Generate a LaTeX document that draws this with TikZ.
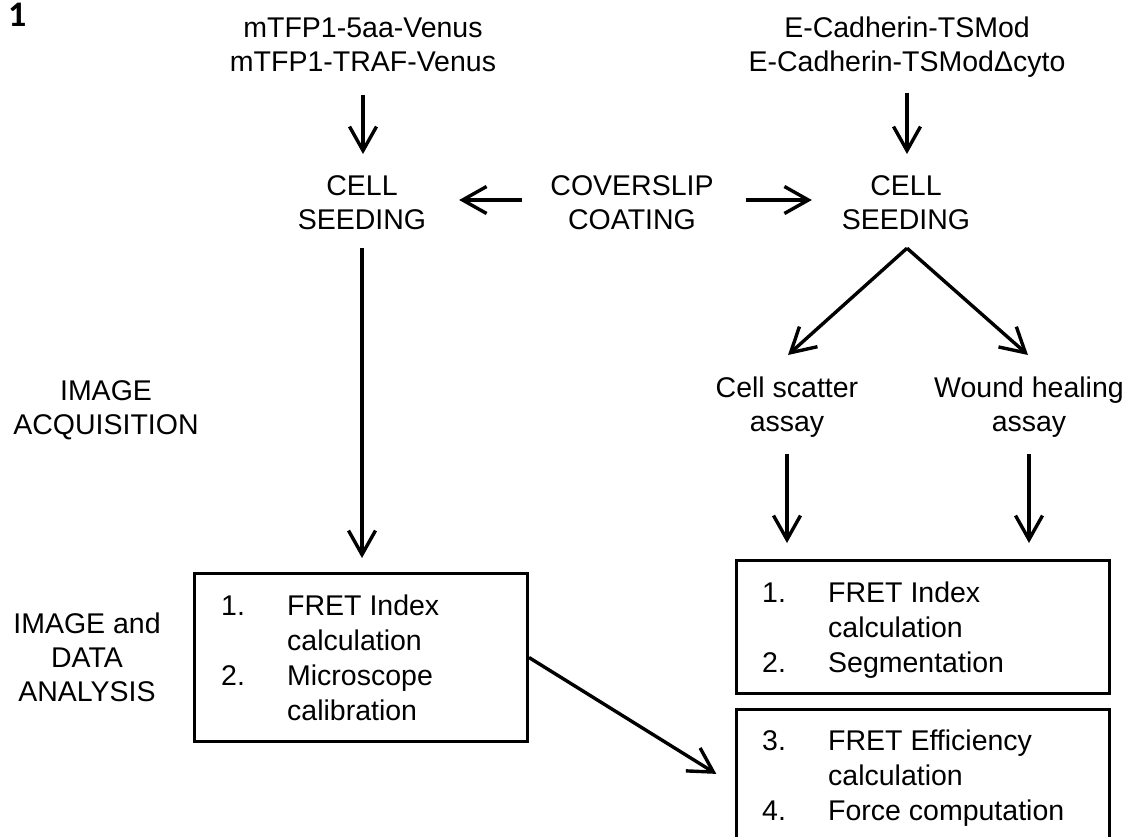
\documentclass[tikz,border=0pt]{standalone}
\usepackage{fontspec}
\setmainfont{Liberation Sans}
\newfontfamily\numfont{Carlito}
\usetikzlibrary{arrows.meta,calc}
\begin{document}
\begin{tikzpicture}[x=1pt,y=-1pt,
  lbl/.style={inner sep=0pt, align=center, anchor=north, font=\fontsize{28.5pt}{34pt}\selectfont},
  arr/.style={line width=3.4pt, -{Straight Barb[length=24pt,width=27pt]}},
  boxnode/.style={draw, line width=3pt, inner sep=0pt, anchor=north west},
  listtext/.style={inner sep=0pt, anchor=north west, align=left, font=\fontsize{28.5pt}{35pt}\selectfont}]
\useasboundingbox (0,0) rectangle (1133,836);
\clip (0,0) rectangle (1133,836);
% labels
\node[font=\numfont\fontsize{36pt}{38pt}\bfseries\selectfont, inner sep=0pt, anchor=north west] (fig) at (8,3) {1};
\node[lbl] (mtfp) at (363,18) {mTFP1-5aa-Venus\\mTFP1-TRAF-Venus};
\node[lbl] (ecad) at (907,17) {E-Cadherin-TSMod\\E-Cadherin-TSModΔcyto};
\node[lbl] (cellL) at (362,175) {CELL\\SEEDING};
\node[lbl] (coat) at (632,175) {COVERSLIP\\COATING};
\node[lbl] (cellR) at (906,175) {CELL\\SEEDING};
\node[lbl] (scatter) at (787,377) {Cell scatter\\assay};
\node[lbl] (wound) at (1029,377) {Wound healing\\assay};
\node[lbl] (acq) at (106,380) {IMAGE\\ACQUISITION};
\node[lbl] (ida) at (87,613) {IMAGE and\\DATA\\ANALYSIS};
% boxes
\node[boxnode, minimum width=333pt, minimum height=168pt] (lbox) at (193,572) {};
\node[listtext] (ltext) at (221,594.6) {\makebox[66pt][l]{1.}FRET Index\\\hspace*{66pt}calculation\\\makebox[66pt][l]{2.}Microscope\\\hspace*{66pt}calibration};
\node[boxnode, minimum width=373pt, minimum height=133pt] (rbox1) at (735,559) {};
\node[listtext] (rtext1) at (762,581.6) {\makebox[66pt][l]{1.}FRET Index\\\hspace*{66pt}calculation\\\makebox[66pt][l]{2.}Segmentation};
\node[boxnode, minimum width=373pt, minimum height=152pt] (rbox2) at (735,708) {};
\node[listtext] (rtext2) at (762,729.6) {\makebox[66pt][l]{3.}FRET Efficiency\\\hspace*{66pt}calculation\\\makebox[66pt][l]{4.}Force computation};
% connectors
\draw[arr, shorten <=22.6pt, shorten >=21pt] (mtfp.south) -- (mtfp.south |- cellL.north);
\draw[arr, shorten <=14.6pt, shorten >=21pt] (ecad.south) -- (ecad.south |- cellR.north);
\coordinate (hy) at (0,200);
\draw[arr, shorten <=28.5pt, shorten >=32.8pt] (coat.west |- hy) -- (cellL.east |- hy);
\draw[arr, shorten <=32.5pt, shorten >=29.8pt] (coat.east |- hy) -- (cellR.west |- hy);
\coordinate (apex) at ($(cellR.south)+(1,18.6)$);
\draw[arr] (apex) -- ($(scatter.north)+(1,-22)$);
\draw[arr] (apex) -- ($(wound.north)+(-1,-22)$);
\draw[arr, shorten <=15.6pt, shorten >=16pt] (scatter.south) -- (scatter.south |- rbox1.north);
\draw[arr, shorten <=15.6pt, shorten >=16pt] (wound.south) -- (wound.south |- rbox1.north);
\draw[arr, shorten <=18.6pt, shorten >=14pt] (cellL.south) -- (cellL.south |- lbox.north);
\draw[arr, shorten >=22pt] (lbox.east) -- (rbox2.west);
\end{tikzpicture}
\end{document}
